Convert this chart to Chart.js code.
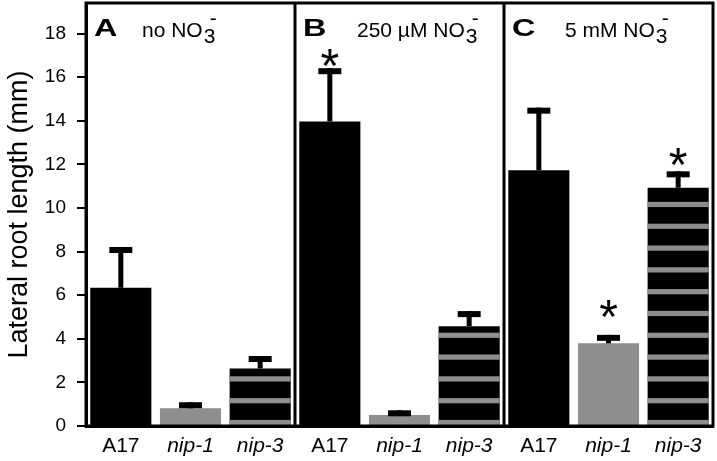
<!DOCTYPE html>
<html>
<head>
<meta charset="utf-8">
<script src="https://cdn.jsdelivr.net/npm/chart.js@4.4.0/dist/chart.umd.min.js"></script>
<style>
  html,body{margin:0;padding:0;background:#fff}
  #wrap{width:717px;height:461px}
</style>
</head>
<body>
<div id="wrap"><canvas id="chart"></canvas></div>
<script>
// ---- data ----
const panels=["A","B","C"];
const conditions=["no","250 µM","5 mM"];        // followed by NO3- in the panel heading
const genotypes=["A17","nip-1","nip-3"];
const meanLen=[6.34,0.81,2.64, 13.97,0.50,4.58, 11.73,3.79,10.93];
const semLen =[1.87,0.28,0.57, 2.44,0.22,0.69, 2.87,0.39,0.75];
const starAt =[null,null,null, 17.04,null,null, null,5.52,12.5];   // where the * sits (mm)
const yTicks=[0,2,4,6,8,10,12,14,16,18];

const labels=panels.flatMap(()=>genotypes);
const GRAY="#8e8e8e";
const fills=labels.map(g=>g==="nip-1"?GRAY:"#000");
const SANS="'Liberation Sans', Arial, sans-serif";

const decor={
  id:"decor",
  afterDatasetsDraw(chart){
    const {ctx,scales:{y}}=chart;
    const bars=chart.getDatasetMeta(0).data;
    ctx.save();
    // grey stripes on the nip-3 bars
    ctx.fillStyle=GRAY;
    bars.forEach((b,i)=>{
      if(labels[i]!=="nip-3") return;
      const l=b.x-b.width/2, v=meanLen[i];
      for(let k=0;k+0.04<v;k++){
        const y0=y.getPixelForValue(Math.min(k+0.28,v)), y1=y.getPixelForValue(k+0.04);
        ctx.fillRect(l,y0,b.width,y1-y0);
      }
    });
    // error bars (upper only)
    ctx.fillStyle="#000";
    bars.forEach((b,i)=>{
      const top=y.getPixelForValue(meanLen[i]+semLen[i]);
      ctx.fillRect(b.x-2.5,top,5,b.y-top);
      ctx.fillRect(b.x-11.5,top,23,6);
    });
    // asterisks
    ctx.font="48px "+SANS; ctx.textAlign="center"; ctx.textBaseline="alphabetic";
    bars.forEach((b,i)=>{
      if(starAt[i]==null) return;
      ctx.fillText("*",b.x,y.getPixelForValue(starAt[i])+27.5);
    });
    ctx.restore();
  },
  afterDraw(chart){
    const {ctx,chartArea:a,scales:{x}}=chart;
    ctx.save();
    ctx.strokeStyle="#000"; ctx.lineWidth=3;
    ctx.strokeRect(a.left,a.top,a.right-a.left,a.bottom-a.top);
    const edges=[a.left];
    for(let p=1;p<panels.length;p++){
      const xd=(x.getPixelForValue(p*3-1)+x.getPixelForValue(p*3))/2;
      edges.push(xd);
      ctx.beginPath(); ctx.moveTo(xd,a.top); ctx.lineTo(xd,a.bottom); ctx.stroke();
    }
    // panel headings
    const subOff=[56,62,61];
    ctx.fillStyle="#000"; ctx.textAlign="left"; ctx.textBaseline="alphabetic";
    panels.forEach((p,i)=>{
      ctx.save();
      ctx.translate(edges[i]+8,36);
      ctx.scale(1.35,1);
      ctx.font="bold 24px "+SANS;
      ctx.fillText(p,0,0);
      ctx.restore();
      ctx.font="21px "+SANS;
      let tx=edges[i]+subOff[i];
      const head=conditions[i]+" NO";
      ctx.fillText(head,tx,37);
      tx+=ctx.measureText(head).width+1;
      ctx.fillText("3",tx,43);
      ctx.fillText("-",tx+6,25);
    });
    ctx.restore();
  }
};

const noPad=s=>{s.paddingTop=0;s.paddingBottom=0;s.paddingLeft=0;s.paddingRight=0;};

new Chart(document.getElementById("chart"),{
  type:"bar",
  data:{labels,datasets:[{data:meanLen,backgroundColor:fills,borderWidth:0,
    barPercentage:0.877,categoryPercentage:1}]},
  options:{
    responsive:true,maintainAspectRatio:false,animation:false,devicePixelRatio:1,
    layout:{padding:{top:3,right:4,left:0,bottom:0}},
    plugins:{legend:{display:false},tooltip:{enabled:false}},
    scales:{
      x:{
        grid:{display:false,drawTicks:false},
        border:{display:true,color:"#000",width:3},
        ticks:{color:"#000",padding:8,maxRotation:0,autoSkip:false,
          font:c=>({family:SANS,size:21,style:labels[c.index]==="A17"?"normal":"italic"})},
        afterFit:s=>{s.height=35;noPad(s);}
      },
      y:{
        min:0,max:19.4,
        grid:{drawOnChartArea:false,drawTicks:true,tickLength:9,color:"#000",lineWidth:2},
        border:{display:true,color:"#000",width:3},
        afterBuildTicks:s=>{s.ticks=yTicks.map(v=>({value:v}));},
        ticks:{color:"#000",padding:11,font:{family:SANS,size:19}},
        title:{display:true,text:"Lateral root length (mm)",color:"#000",
          font:{family:SANS,size:27},padding:{top:3,bottom:0}},
        afterFit:s=>{s.width=86;noPad(s);}
      }
    }
  },
  plugins:[decor]
});
</script>
</body>
</html>
